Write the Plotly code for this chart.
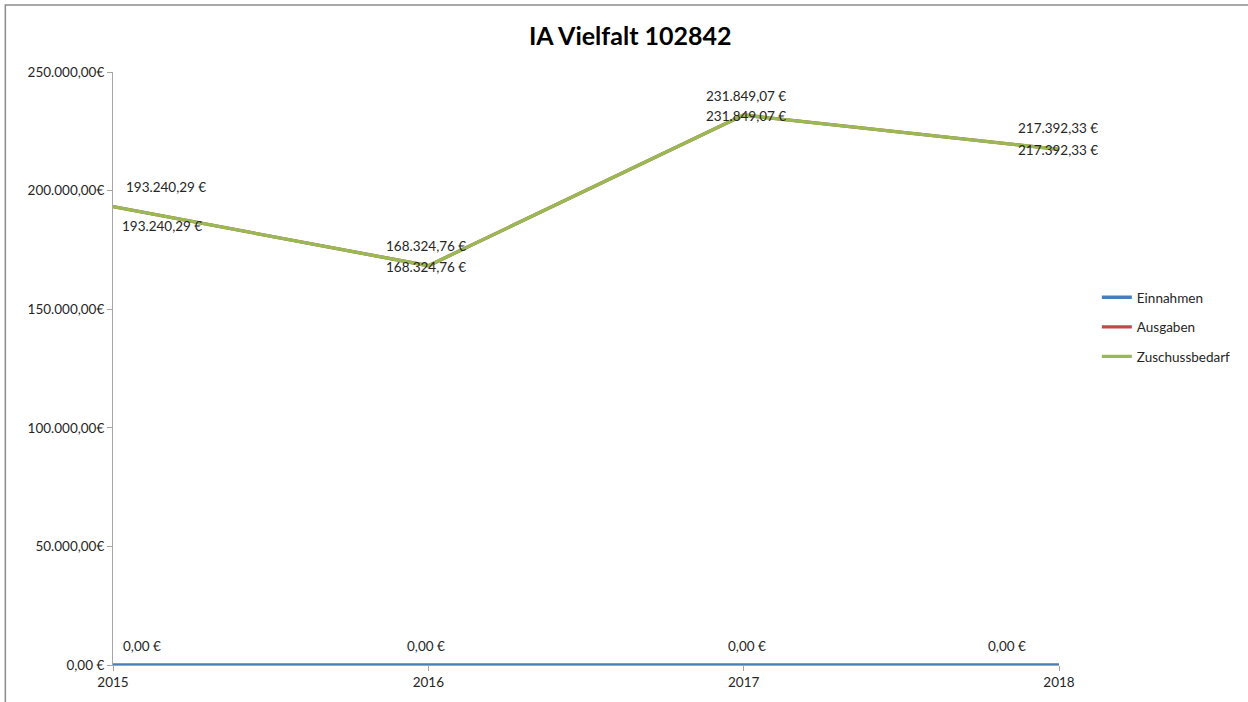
import plotly.graph_objects as go

# Daten
jahre = [2015, 2016, 2017, 2018]
einnahmen = [0.00, 0.00, 0.00, 0.00]
ausgaben = [193240.29, 168324.76, 231849.07, 217392.33]
zuschussbedarf = [193240.29, 168324.76, 231849.07, 217392.33]
y_ticks = [0, 50000, 100000, 150000, 200000, 250000]

FONT = "Lato"
TXT = "#262626"
FS = 13.5

fig = go.Figure()

serien = [
    ("Einnahmen", einnahmen, "#4a7ebb"),
    ("Ausgaben", ausgaben, "#be4b48"),
    ("Zuschussbedarf", zuschussbedarf, "#98b954"),
]
for i, (name, werte, farbe) in enumerate(serien):
    fig.add_trace(go.Scatter(x=jahre, y=werte, name=name, mode="lines",
                             line=dict(color=farbe, width=3.3),
                             cliponaxis=False, legendgroup=f"g{i}"))


def fmt(v):
    s = f"{v:,.2f}".replace(",", "X").replace(".", ",").replace("X", ".")
    return s + " €"


# Beschriftungen (Verschiebung in Pixel wie im Excel-Original)
offsets = {
    "Einnahmen": [(29, 19), (-2, 19), (3, 19), (-52, 19)],
    "Ausgaben": [(53, 20), (-2, 20), (2, 19), (-1, 21)],
    "Zuschussbedarf": [(49, -19), (-2, -1), (2, -1), (-1, -1)],
}
for name, werte, _ in serien:
    for x, v, (dx, dy) in zip(jahre, werte, offsets[name]):
        fig.add_annotation(x=x, y=v, text=fmt(v), showarrow=False,
                           xshift=dx, yshift=dy,
                           font=dict(family=FONT, size=FS, color=TXT))

fig.update_layout(
    width=1248, height=702,
    paper_bgcolor="white", plot_bgcolor="white",
    margin=dict(l=113, r=184, t=72, b=37),
    title=dict(text="<b>IA Vielfalt 102842</b>", x=0.505, xanchor="center",
               y=0.948, yanchor="middle",
               font=dict(family=FONT, size=25, color="#000000")),
    font=dict(family=FONT, size=FS, color=TXT),
    separators=",.",
    legend=dict(x=1.04, xanchor="left", y=0.57, yanchor="middle",
                tracegroupgap=9, font=dict(family=FONT, size=FS, color=TXT),
                itemwidth=30),
    showlegend=True,
    shapes=[dict(type="rect", xref="paper", yref="paper",
                 x0=-0.1138, x1=1.3, y0=-0.2, y1=1.113,
                 line=dict(color="#8c8c8c", width=1.5), layer="below")],
)

fig.update_xaxes(range=[2015, 2018], tickvals=jahre, ticktext=[str(j) for j in jahre],
                 showgrid=False, zeroline=False, showline=True, linecolor="#a6a6a6",
                 linewidth=1, ticks="outside", ticklen=5, tickcolor="#a6a6a6",
                 tickfont=dict(family=FONT, size=FS, color=TXT), layer="below traces")
fig.update_yaxes(range=[0, 250000], tickvals=y_ticks,
                 ticktext=[fmt(t).replace(" €", "€") if t else "0,00 €" for t in y_ticks],
                 showgrid=False, zeroline=False, showline=True, linecolor="#a6a6a6",
                 linewidth=1, ticks="outside", ticklen=5, tickcolor="#a6a6a6",
                 tickfont=dict(family=FONT, size=FS, color=TXT), layer="below traces")

fig.write_html("out.html", config={"displayModeBar": False},
               post_script="document.body.style.margin='0';")
